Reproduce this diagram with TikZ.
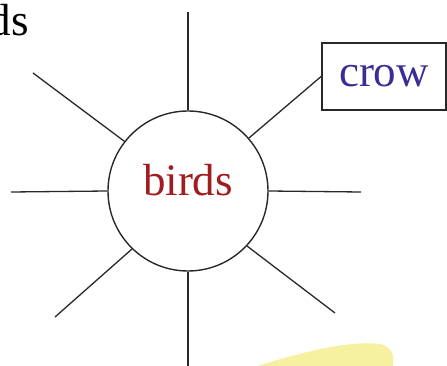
\documentclass[tikz,border=0pt]{standalone}
\usepackage{fontspec}
\setmainfont{Liberation Serif}
\definecolor{birdred}{RGB}{160,28,30}
\definecolor{crowblue}{RGB}{58,46,150}
\definecolor{linegray}{RGB}{40,40,40}
\definecolor{blobyellow}{RGB}{246,241,160}
\begin{document}
\begin{tikzpicture}[x=1pt,y=-1pt,
  spoke/.style={draw=linegray,line width=1.3pt},
  bigtext/.style={font=\fontsize{45}{50}\selectfont},
  hub/.style={circle,draw=linegray,line width=1.4pt,minimum size=160pt,inner sep=0pt,
    bigtext,text=birdred,text height=10pt,text depth=0pt},
  leafbox/.style={rectangle,draw=linegray,line width=1.8pt,minimum width=124pt,
    minimum height=67pt,inner sep=0pt,bigtext,text=crowblue}]
\useasboundingbox (0,0) rectangle (447,366);
% yellow blob
\fill[blobyellow] (245,370) .. controls (300,352) and (350,340) .. (380,344)
  .. controls (396,348) and (394,360) .. (392,370) -- cycle;
% fragment text
\node[bigtext,anchor=base east,inner sep=0pt] (frag) at (29,36) {ds};
% hub and leaf
\node[hub] (birds) at (188,191) {birds};
\node[leafbox] (crow) at (384,76.5) {crow};
% free ends
\coordinate (top) at (188,12);
\coordinate (bot) at (188,372);
\coordinate (lft) at (11,192);
\coordinate (rgt) at (361,192);
\coordinate (ul) at (33,73);
\coordinate (ll) at (55,317);
\coordinate (lr) at (335,313);
% spokes
\draw[spoke] (birds.90) -- (top);
\draw[spoke] (birds.270) -- (bot);
\draw[spoke] (birds.180) -- (lft);
\draw[spoke] (birds.0) -- (rgt);
\draw[spoke] (birds.142) -- (ul);
\draw[spoke] (birds.226) -- (ll);
\draw[spoke] (birds.317) -- (lr);
\draw[spoke] (birds.41) -- (crow.west);
\end{tikzpicture}
\end{document}
